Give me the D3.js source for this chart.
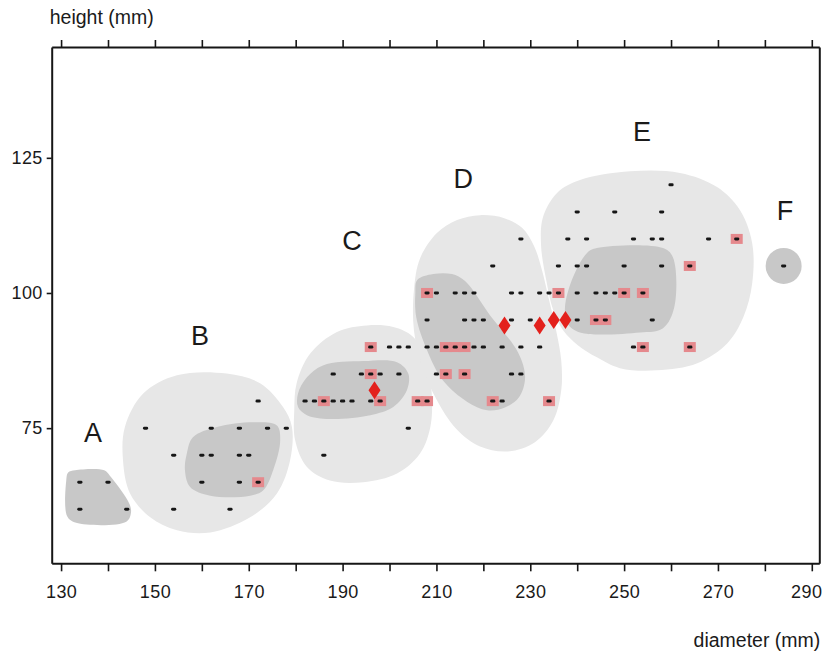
<!DOCTYPE html>
<html>
<head>
<meta charset="utf-8">
<script src="https://cdn.jsdelivr.net/npm/d3@7"></script>
<style>
  html, body { margin: 0; padding: 0; background: #fff; }
  svg { display: block; }
  text { font-family: "Liberation Sans", Arial, sans-serif; fill: #1a1a1a; }
</style>
</head>
<body>
<svg id="chart" width="824" height="655"></svg>
<script>
// Measurements: diameter (mm) vs height (mm)
const plainPoints = [
  [260,120],
  [240,115],[248,115],[258,115],
  [228,110],[238,110],[242,110],[252,110],[256,110],[258,110],[268,110],
  [222,105],[236,105],[240,105],[242,105],[250,105],[258,105],[284,105],
  [210,100],[214,100],[216,100],[218,100],[226,100],[228,100],[232,100],[234,100],[240,100],[244,100],[246,100],[248,100],
  [208,95],[216,95],[218,95],[220,95],[226,95],[230,95],[240,95],[256,95],
  [200,90],[202,90],[204,90],[208,90],[210,90],[218,90],[220,90],[224,90],[228,90],[232,90],[252,90],
  [188,85],[194,85],[198,85],[202,85],[210,85],[226,85],[228,85],
  [172,80],[182,80],[184,80],[188,80],[190,80],[192,80],[196,80],[224,80],
  [148,75],[162,75],[168,75],[174,75],[178,75],[204,75],
  [154,70],[160,70],[162,70],[168,70],[170,70],[186,70],
  [134,65],[140,65],[160,65],[168,65],
  [134,60],[144,60],[154,60],[166,60]
];

// Highlighted measurements
const markedPoints = [
  [274,110],
  [264,105],
  [208,100],[236,100],[250,100],[254,100],
  [244,95],[246,95],
  [196,90],[212,90],[214,90],[216,90],[254,90],[264,90],
  [196,85],[212,85],[216,85],
  [186,80],[198,80],[206,80],[208,80],[222,80],[234,80],
  [172,65]
];

// Reference pieces
const diamondPoints = [[196.8,82],[224.5,94],[232,94],[235,95],[237.5,95]];

// Group outlines (diameter, height)
const outerB = [[147.5,81.4],[154.7,84.8],[165.3,85.1],[172.4,83.3],[177.3,78.9],[179.2,75.2],[178.8,69.0],[176.0,62.9],[170.3,58.5],[161.8,55.7],[154.7,56.1],[149.0,58.5],[144.7,62.9],[143.2,69.0],[143.6,75.2]];
const outerC = [[179.7,78.3],[180.2,83.3],[183.1,88.8],[188.8,92.8],[195.2,94.0],[200.8,93.7],[205.0,91.9],[207.9,87.5],[209.0,81.4],[208.7,75.2],[206.5,70.3],[201.6,66.6],[194.4,65.0],[187.3,65.3],[182.4,67.8],[179.9,72.7]];
const outerD = [[219.3,114.4],[224.6,113.8],[228.3,112.0],[230.8,108.7],[232.5,104.2],[234.0,98.7],[235.5,93.1],[236.6,87.5],[236.6,82.0],[234.9,76.4],[231.0,72.4],[225.3,70.7],[219.3,71.6],[214.2,74.9],[209.9,80.5],[206.9,86.6],[205.2,93.1],[205.2,100.5],[206.5,106.4],[210.1,111.1],[214.4,113.5]];
const outerE = [[232.7,114.0],[235.7,118.5],[240.6,120.9],[251.3,122.5],[261.9,122.2],[269.8,119.6],[274.7,115.3],[277.3,109.2],[277.3,101.8],[275.4,95.5],[272.0,90.7],[265.6,87.0],[257.0,85.7],[249.1,86.1],[244.2,88.1],[240.2,90.3],[237.0,93.1],[234.9,96.8],[233.4,102.4],[232.3,108.8]];

const coreA = [[133.0,67.2],[139.2,67.2],[140.4,66.2],[144.5,61.1],[144.9,59.4],[143.9,57.7],[133.2,57.5],[131.3,58.7],[131.1,65.3],[131.5,66.8]];
const coreB = [[156.8,70.3],[158.1,73.3],[163.2,75.2],[170.9,76.1],[176.0,75.5],[176.7,72.7],[175.2,67.2],[173.1,63.5],[170.3,62.5],[161.8,62.5],[157.5,64.1],[156.4,67.2]];
const coreC = [[180.5,81.4],[182.4,84.4],[185.8,86.6],[194.4,87.4],[201.6,87.2],[204.0,85.1],[203.7,82.0],[200.8,78.9],[195.9,77.4],[187.3,76.7],[182.4,77.4],[180.5,78.9]];
const coreD = [[205.9,102.4],[209.3,103.5],[213.3,103.5],[216.1,102.2],[221.4,95.9],[227.4,89.0],[228.9,84.4],[227.6,80.7],[224.6,78.8],[220.8,78.3],[216.5,79.9],[211.4,83.8],[208.0,89.4],[205.7,95.5],[205.5,99.9]];
const coreE = [[244.2,108.3],[258.3,108.3],[260.4,106.6],[260.7,97.4],[258.3,93.5],[253.4,92.7],[240.6,92.7],[237.9,94.4],[237.4,97.4],[239.1,102.9],[242.1,107.4]];
const coreFCentre = [284, 105];

const groupNames = ["A", "B", "C", "D", "E", "F"];
const groupLabelAt = [[136.8,74.2],[159.6,92.2],[192.0,109.8],[215.7,121.2],[253.8,130.0],[284.3,115.3]];

const xTicks = d3.range(130, 291, 10);
const yTicks = [75, 100, 125];

// ---- drawing ----
const svg = d3.select("#chart");
const frameLeft = 51.7, frameRight = 819.3, frameTop = 47, frameBottom = 563.3;

const x = d3.scaleLinear().domain([128, 291.6]).range([frameLeft, frameRight]);
const y = d3.scaleLinear().domain([50, 145.5]).range([frameBottom, frameTop]);

const LIGHT = "#e7e7e7", DARK = "#c8c8c8", PINK = "#e5898d", RED = "#e3211c", INK = "#161616";

const outline = d3.line()
  .x(d => x(d[0])).y(d => y(d[1]))
  .curve(d3.curveCatmullRomClosed.alpha(0.5));

const plot = svg.append("g");

plot.selectAll("path.outer")
  .data([outerB, outerC, outerD, outerE])
  .join("path").attr("class", "outer")
  .attr("d", outline).attr("fill", LIGHT);

plot.selectAll("path.core")
  .data([coreA, coreB, coreC, coreD, coreE])
  .join("path").attr("class", "core")
  .attr("d", outline).attr("fill", DARK);

plot.append("circle")
  .attr("cx", x(coreFCentre[0])).attr("cy", y(coreFCentre[1]))
  .attr("r", 18).attr("fill", DARK);

// pink highlight boxes
plot.selectAll("rect.mark")
  .data(markedPoints)
  .join("rect").attr("class", "mark")
  .attr("x", d => x(d[0]) - 6).attr("y", d => y(d[1]) - 5)
  .attr("width", 12).attr("height", 10)
  .attr("fill", PINK);

// point dashes
plot.selectAll("rect.pt")
  .data(plainPoints.concat(markedPoints))
  .join("rect").attr("class", "pt")
  .attr("x", d => x(d[0]) - 2.6).attr("y", d => y(d[1]) - 1.5)
  .attr("width", 5.2).attr("height", 3).attr("rx", 1.4)
  .attr("fill", INK);

// diamonds
plot.selectAll("path.dia")
  .data(diamondPoints)
  .join("path").attr("class", "dia")
  .attr("d", d => {
    const cx = x(d[0]), cy = y(d[1]);
    return `M${cx},${cy - 9}L${cx + 6},${cy}L${cx},${cy + 9}L${cx - 6},${cy}Z`;
  })
  .attr("fill", RED);

// group letters
plot.selectAll("text.grp")
  .data(groupNames)
  .join("text").attr("class", "grp")
  .attr("x", (d, i) => x(groupLabelAt[i][0]))
  .attr("y", (d, i) => y(groupLabelAt[i][1]))
  .attr("dy", "0.36em")
  .attr("text-anchor", "middle")
  .style("font-size", "27px")
  .text(d => d);

// axes
const axisStyle = g => {
  g.select(".domain").attr("stroke", INK).attr("stroke-width", 2);
  g.selectAll(".tick line").attr("stroke", INK).attr("stroke-width", 1.6);
  g.selectAll("text").style("font-size", "18px").attr("fill", INK)
    .style("font-family", "'Liberation Sans', Arial, sans-serif");
};

svg.append("g")
  .attr("transform", `translate(0,${frameBottom})`)
  .call(d3.axisBottom(x).tickValues(xTicks).tickSize(8).tickSizeOuter(0).tickPadding(14)
    .tickFormat(v => (v - 130) % 20 === 0 ? v : ""))
  .call(axisStyle)
  .call(g => g.selectAll("text").style("letter-spacing", "0.4px"))
  .call(g => g.selectAll(".tick").filter(v => v === 290).select("text")
    .attr("text-anchor", "end").attr("x", 10));

svg.append("g")
  .attr("transform", `translate(0,${frameTop})`)
  .call(d3.axisTop(x).tickValues(xTicks).tickSize(7).tickSizeOuter(0).tickFormat(""))
  .call(axisStyle);

svg.append("g")
  .attr("transform", `translate(${frameLeft},0)`)
  .call(d3.axisLeft(y).tickValues(yTicks).tickSize(5).tickSizeOuter(0).tickPadding(4))
  .call(axisStyle)
  .call(g => g.selectAll("text").style("letter-spacing", "0.4px"));

svg.append("g")
  .attr("transform", `translate(${frameRight},0)`)
  .call(d3.axisRight(y).tickValues([]).tickSizeOuter(0))
  .call(axisStyle);

svg.append("text")
  .attr("x", frameLeft - 2).attr("y", 24)
  .style("font-size", "19.5px")
  .text("height (mm)");

svg.append("text")
  .attr("x", frameRight + 1).attr("y", 647)
  .attr("text-anchor", "end")
  .style("font-size", "19.5px")
  .text("diameter (mm)");
</script>
</body>
</html>
